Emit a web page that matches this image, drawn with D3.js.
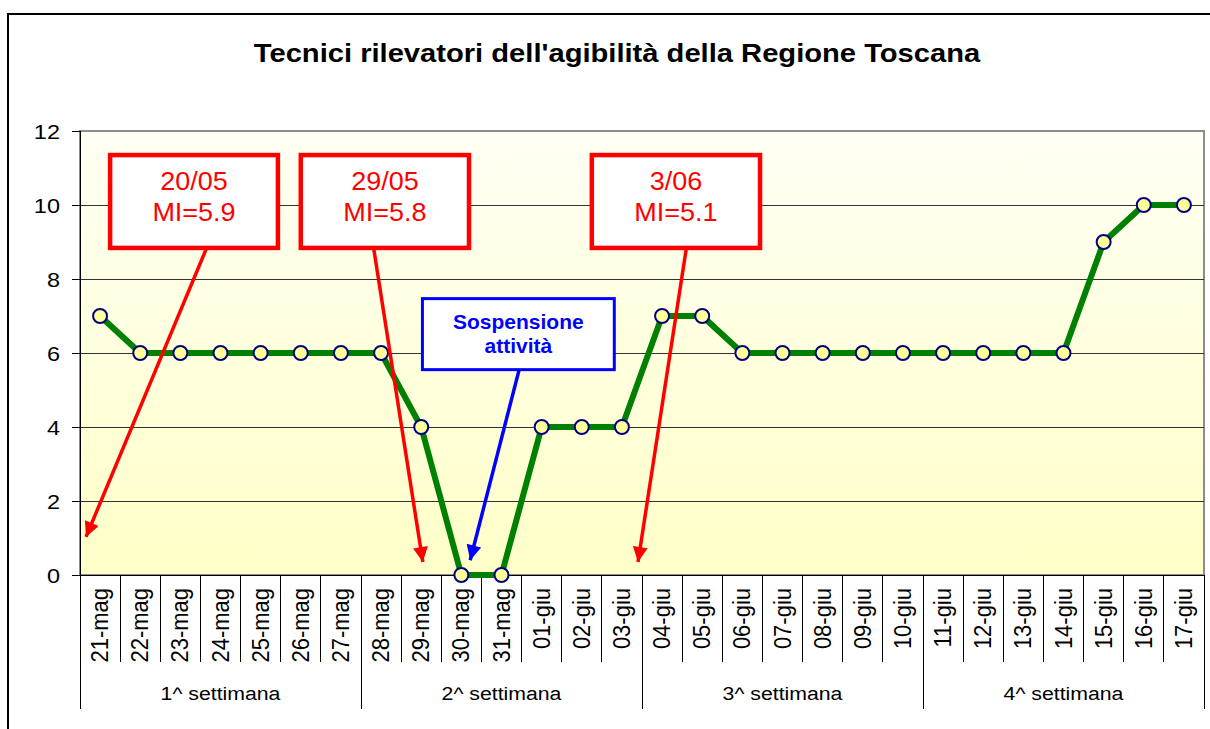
<!DOCTYPE html>
<html>
<head>
<meta charset="utf-8">
<script src="https://cdn.jsdelivr.net/npm/d3@7"></script>
<style>
  body { margin: 0; background: #fff; }
  svg { display: block; font-family: Arial, "Liberation Sans", sans-serif; }
</style>
</head>
<body>
<svg width="1210" height="729"></svg>
<script>
const days = ["21-mag","22-mag","23-mag","24-mag","25-mag","26-mag","27-mag",
              "28-mag","29-mag","30-mag","31-mag","01-giu","02-giu","03-giu",
              "04-giu","05-giu","06-giu","07-giu","08-giu","09-giu","10-giu",
              "11-giu","12-giu","13-giu","14-giu","15-giu","16-giu","17-giu"];
const tecnici = [7,6,6,6,6,6,6, 6,4,0,0,4,4,4, 7,7,6,6,6,6,6, 6,6,6,6,9,10,10];
const weeks = ["1^ settimana","2^ settimana","3^ settimana","4^ settimana"];
const yTicks = [0,2,4,6,8,10,12];

const svg = d3.select("svg");
const pLeft = 80, pRight = 1204, pTop = 131, pBottom = 575;
const SX = 1.12; // text in the original is a bit wider than tall

const x = d3.scaleBand().domain(days).range([pLeft, pRight]);
const xi = d3.scaleLinear().domain([-0.5, days.length - 0.5]).range([pLeft, pRight]); // fractional category position
const y = d3.scaleLinear().domain([0, 12]).range([pBottom, pTop]);

function label(g, tx, ty, str, size, opts = {}) {
  return g.append("text")
    .attr("transform", `translate(${tx},${ty}) scale(${opts.sx || SX},1)` + (opts.rotate ? ` rotate(${opts.rotate})` : ""))
    .attr("text-anchor", opts.anchor || "middle")
    .attr("font-size", size)
    .attr("font-weight", opts.bold ? "bold" : "normal")
    .attr("fill", opts.color || "#000")
    .text(str);
}

// outer frame
svg.append("rect").attr("x", 8).attr("y", 14).attr("width", 1220).attr("height", 740)
  .attr("fill", "none").attr("stroke", "#000").attr("stroke-width", 2);

// title
label(svg, 617, 62, "Tecnici rilevatori dell'agibilità della Regione Toscana", 26.5, { bold: true, sx: 1.1 });

// plot background
const defs = svg.append("defs");
const grad = defs.append("linearGradient").attr("id", "bg").attr("x1", 0).attr("y1", 0).attr("x2", 0).attr("y2", 1);
grad.append("stop").attr("offset", "0%").attr("stop-color", "#fffff4");
grad.append("stop").attr("offset", "100%").attr("stop-color", "#ffffc8");
svg.append("rect").attr("x", pLeft).attr("y", pTop).attr("width", pRight - pLeft).attr("height", pBottom - pTop)
  .attr("fill", "url(#bg)").attr("stroke", "#8c8c8c").attr("stroke-width", 2);

// gridlines
svg.append("g").selectAll("line").data(yTicks.filter(d => d > 0 && d < 12)).join("line")
  .attr("x1", pLeft).attr("x2", pRight).attr("y1", d => y(d)).attr("y2", d => y(d))
  .attr("stroke", "#333").attr("stroke-width", 1).attr("shape-rendering", "crispEdges");

// y axis
const yAxis = svg.append("g").attr("transform", `translate(${pLeft},0)`)
  .call(d3.axisLeft(y).tickValues(yTicks).tickSize(8).tickFormat(""));
yAxis.select(".domain").attr("stroke", "#000").attr("shape-rendering", "crispEdges");
yAxis.selectAll("line").attr("shape-rendering", "crispEdges");
const yLab = svg.append("g");
yTicks.forEach(t => label(yLab, 60, y(t) + 7.5, t, 21, { anchor: "end" }));

// x axis: day ticks
const xg = svg.append("g");
xg.append("line").attr("x1", pLeft).attr("x2", pRight).attr("y1", pBottom).attr("y2", pBottom)
  .attr("stroke", "#000").attr("shape-rendering", "crispEdges");
xg.selectAll("line.tick").data(d3.range(days.length + 1)).join("line").attr("class", "tick")
  .attr("x1", i => pLeft + i * x.bandwidth()).attr("x2", i => pLeft + i * x.bandwidth())
  .attr("y1", pBottom).attr("y2", i => i % 7 === 0 ? 709 : 662)
  .attr("stroke", "#000").attr("stroke-width", 1).attr("shape-rendering", "crispEdges");
days.forEach(d => label(xg, x(d) + x.bandwidth() / 2 + 8, 588, d, 22, { anchor: "end", rotate: -90 }));
weeks.forEach((w, i) => label(xg, pLeft + (i * 7 + 3.5) * x.bandwidth(), 700, w, 19));

// series
const line = d3.line().x((d, i) => x(days[i]) + x.bandwidth() / 2).y(d => y(d));
svg.append("path").datum(tecnici).attr("d", line)
  .attr("fill", "none").attr("stroke", "#008000").attr("stroke-width", 6).attr("stroke-linejoin", "round");
svg.append("g").selectAll("circle").data(tecnici).join("circle")
  .attr("cx", (d, i) => x(days[i]) + x.bandwidth() / 2).attr("cy", d => y(d)).attr("r", 7)
  .attr("fill", "#ffff99").attr("stroke", "#000080").attr("stroke-width", 2);

// annotations
["red", "blue"].forEach(c => {
  defs.append("marker").attr("id", "head-" + c).attr("viewBox", "0 0 10 10")
    .attr("refX", 10).attr("refY", 5).attr("markerUnits", "userSpaceOnUse")
    .attr("markerWidth", 17).attr("markerHeight", 15).attr("orient", "auto")
    .append("path").attr("d", "M0,0L10,5L0,10Z").attr("fill", c === "red" ? "#ff0000" : "#0000ff");
});

const callouts = [
  { box: [0.25, 4.43, 11.35, 8.84], from: [2.64, 8.8], to: [-0.35, 1.03], lines: ["20/05", "MI=5.9"], color: "#ff0000", head: "red" },
  { box: [5.0, 9.19, 11.35, 8.84], from: [6.82, 8.8], to: [8.04, 0.35], lines: ["29/05", "MI=5.8"], color: "#ff0000", head: "red" },
  { box: [12.25, 16.44, 11.35, 8.84], from: [14.6, 8.8], to: [13.4, 0.35], lines: ["3/06", "MI=5.1"], color: "#ff0000", head: "red" },
  { box: [8.03, 12.81, 7.47, 5.55], from: [10.44, 5.55], to: [9.22, 0.4], lines: ["Sospensione", "attività"], color: "#0000ff", head: "blue", bold: true }
];

callouts.forEach(c => {
  const g = svg.append("g");
  g.append("line").attr("x1", xi(c.from[0])).attr("y1", y(c.from[1]))
    .attr("x2", xi(c.to[0])).attr("y2", y(c.to[1]))
    .attr("stroke", c.color).attr("stroke-width", 3.5).attr("marker-end", `url(#head-${c.head})`);
  const x0 = xi(c.box[0]), x1 = xi(c.box[1]), y0 = y(c.box[2]), y1 = y(c.box[3]);
  g.append("rect").attr("x", x0).attr("y", y0).attr("width", x1 - x0).attr("height", y1 - y0)
    .attr("fill", "#fff").attr("stroke", c.color).attr("stroke-width", c.bold ? 3 : 4.5);
  const cx = (x0 + x1) / 2, cy = (y0 + y1) / 2;
  c.lines.forEach((t, k) => {
    if (c.bold) label(g, cx, cy - 5 + k * 24, t, 20, { bold: true, color: c.color, sx: 1.05 });
    else label(g, cx, cy - 11.5 + k * 31, t, 25, { color: c.color, sx: 1.08 });
  });
});
</script>
</body>
</html>
